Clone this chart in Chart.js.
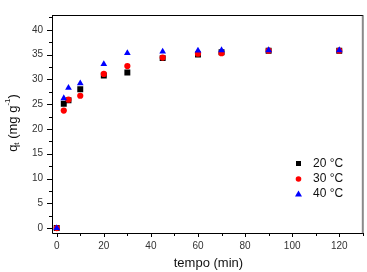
<!DOCTYPE html>
<html>
<head>
<meta charset="utf-8">
<script src="https://cdn.jsdelivr.net/npm/chart.js@4/dist/chart.umd.min.js"></script>
<style>
    html, body { margin: 0; padding: 0; background: #fff; }
    #wrap { width: 367px; height: 272px; position: relative; }
</style>
</head>
<body>
<div id="wrap"><canvas id="chart"></canvas></div>
<script>
const times = [0, 3, 5, 10, 20, 30, 45, 60, 70, 90, 120];
const q20 = [0, 25.1, 25.8, 28.0, 30.8, 31.4, 34.3, 35.0, 35.5, 35.8, 35.8];
const q30 = [0, 23.7, 25.9, 26.7, 31.1, 32.7, 34.4, 35.2, 35.3, 35.8, 35.8];
const q40 = [0, 26.2, 28.3, 29.2, 33.1, 35.3, 35.6, 35.8, 35.9, 35.9, 35.9];
const seriesLabels = ['20 °C', '30 °C', '40 °C'];
const xTicks = [0, 20, 40, 60, 80, 100, 120];
const yTicks = [0, 5, 10, 15, 20, 25, 30, 35, 40];

const fontFamily = '"Liberation Sans", Arial, sans-serif';
const tickColor = '#333';

function points(ys) {
    return times.map((t, i) => ({ x: t, y: ys[i] }));
}

const styles = [
    { color: '#000000', shape: 'rect', radius: 4.2, order: 3 },
    { color: '#ff0000', shape: 'circle', radius: 3.1, order: 2 },
    { color: '#0000ff', shape: 'triangle', radius: 3.9, order: 1 }
];

// axes, minor ticks, titles and the legend box
const frame = {
    id: 'frame',
    afterDraw(chart) {
        const ctx = chart.ctx;
        const a = chart.chartArea;
        const xs = chart.scales.x, ys = chart.scales.y;
        ctx.save();

        // right border (grey) and top border
        ctx.strokeStyle = '#8a8a8a';
        ctx.lineWidth = 2;
        ctx.beginPath();
        ctx.moveTo(a.right, a.top);
        ctx.lineTo(a.right, a.bottom + 1);
        ctx.stroke();

        ctx.strokeStyle = '#000';
        ctx.lineWidth = 1;
        ctx.beginPath();
        ctx.moveTo(a.left + 0.5, a.top + 0.5);
        ctx.lineTo(a.right, a.top + 0.5);
        ctx.moveTo(a.left + 0.5, a.top);
        ctx.lineTo(a.left + 0.5, a.bottom + 0.5);
        ctx.lineTo(a.right, a.bottom + 0.5);

        for (let v = 0; v <= 130; v += 10) {
            const px = Math.round(xs.getPixelForValue(v)) + 0.5;
            const len = v % 20 === 0 ? 4 : 3;
            ctx.moveTo(px, a.bottom);
            ctx.lineTo(px, a.bottom + len);
        }
        for (let v = 0; v <= 42.5; v += 2.5) {
            const py = Math.round(ys.getPixelForValue(v)) + 0.5;
            const len = v % 5 === 0 ? 5 : 3;
            ctx.moveTo(a.left, py);
            ctx.lineTo(a.left - len, py);
        }
        ctx.stroke();

        // x title
        ctx.fillStyle = '#111';
        ctx.font = '13px ' + fontFamily;
        ctx.textAlign = 'center';
        ctx.textBaseline = 'middle';
        ctx.fillText('tempo (min)', (a.left + a.right) / 2 + 1, 263);

        // y title with subscript and superscript
        ctx.translate(13, 123);
        ctx.rotate(-Math.PI / 2);
        ctx.textAlign = 'left';
        ctx.textBaseline = 'middle';
        const parts = [
            { t: 'q', size: 13, dy: 0 },
            { t: 't', size: 8, dy: 4 },
            { t: ' (mg g', size: 13, dy: 0 },
            { t: '-1', size: 8, dy: -5 },
            { t: ')', size: 13, dy: 0 }
        ];
        let total = 0;
        parts.forEach(p => {
            ctx.font = p.size + 'px ' + fontFamily;
            p.w = ctx.measureText(p.t).width;
            total += p.w;
        });
        let cx = -total / 2;
        parts.forEach(p => {
            ctx.font = p.size + 'px ' + fontFamily;
            ctx.fillText(p.t, cx, p.dy);
            cx += p.w;
        });
        ctx.setTransform(1, 0, 0, 1, 0, 0);

        // legend
        ctx.font = '12px ' + fontFamily;
        ctx.textAlign = 'left';
        ctx.textBaseline = 'middle';
        const rows = [163.5, 179, 194];
        styles.forEach((s, i) => {
            ctx.fillStyle = s.color;
            ctx.beginPath();
            if (s.shape === 'rect') ctx.rect(296, rows[i] - 2.5, 5, 5);
            else if (s.shape === 'circle') ctx.arc(298.5, rows[i], 2.8, 0, Math.PI * 2);
            else {
                ctx.moveTo(298.5, rows[i] - 3.5);
                ctx.lineTo(302, rows[i] + 2.5);
                ctx.lineTo(295, rows[i] + 2.5);
                ctx.closePath();
            }
            ctx.fill();
            ctx.fillStyle = '#111';
            ctx.fillText(seriesLabels[i], 313, rows[i]);
        });
        ctx.restore();
    }
};

new Chart(document.getElementById('chart'), {
    type: 'scatter',
    data: {
        datasets: [q20, q30, q40].map((ys, i) => ({
            label: seriesLabels[i],
            data: points(ys),
            pointStyle: styles[i].shape,
            pointRadius: styles[i].radius,
            pointHoverRadius: styles[i].radius,
            pointBackgroundColor: styles[i].color,
            pointBorderColor: styles[i].color,
            pointBorderWidth: 0,
            order: styles[i].order
        }))
    },
    options: {
        responsive: true,
        maintainAspectRatio: false,
        animation: false,
        layout: { padding: { top: 3, right: 3, left: 0, bottom: 0 } },
        plugins: {
            legend: { display: false },
            tooltip: { enabled: false }
        },
        scales: {
            x: {
                type: 'linear',
                min: -2,
                max: 130,
                grid: { display: false, drawTicks: false },
                border: { display: false },
                afterBuildTicks: s => { s.ticks = xTicks.map(v => ({ value: v })); },
                afterFit: s => { s.height = 39; },
                ticks: {
                    color: tickColor,
                    font: { family: fontFamily, size: 10 },
                    padding: 7,
                    maxRotation: 0
                }
            },
            y: {
                type: 'linear',
                min: -1,
                max: 43,
                grid: { display: false, drawTicks: false },
                border: { display: false },
                afterBuildTicks: s => { s.ticks = yTicks.map(v => ({ value: v })); },
                afterFit: s => { s.width = 52; },
                ticks: {
                    color: tickColor,
                    font: { family: fontFamily, size: 10 },
                    padding: 9
                }
            }
        }
    },
    plugins: [frame]
});
</script>
</body>
</html>
